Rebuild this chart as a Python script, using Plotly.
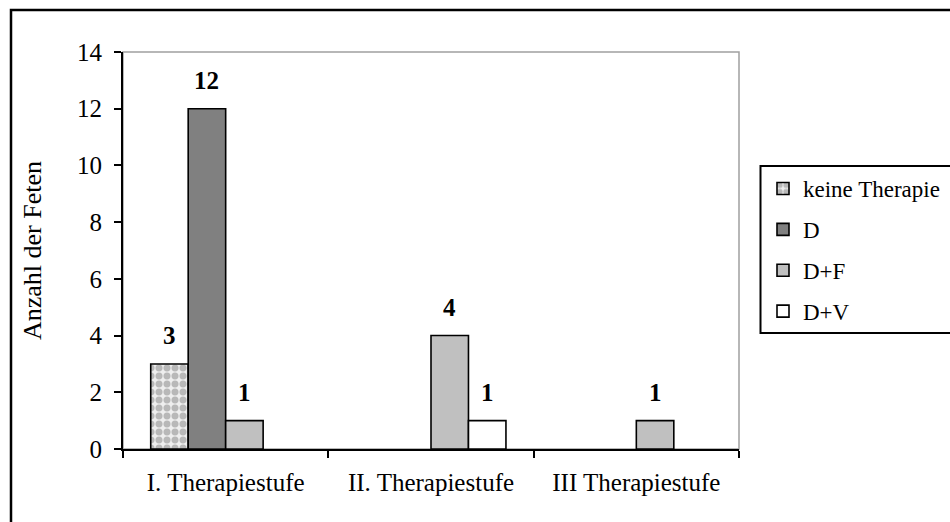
import plotly.graph_objects as go

# Counts of fetuses per therapy stage and treatment
stages = ["I. Therapiestufe", "II. Therapiestufe", "III Therapiestufe"]
keine_therapie = [3, None, None]
d_only = [12, None, None]
d_plus_f = [1, 4, 1]
d_plus_v = [None, 1, None]

series_names = ["keine Therapie", "D", "D+F", "D+V"]
series_values = [keine_therapie, d_only, d_plus_f, d_plus_v]

y_ticks = [0, 2, 4, 6, 8, 10, 12, 14]

FONT = "Liberation Serif, Times New Roman, serif"
W, H = 950, 522
L, R, T, B = 123, 211, 52, 73
BARGAP = 0.27

fills = [
    dict(color="white", pattern=dict(shape=".", fgcolor="#b8b8b8", bgcolor="#eeeeee",
                                     size=8, solidity=0.6, fillmode="replace")),
    dict(color="#808080"),
    dict(color="#c0c0c0"),
    dict(color="#ffffff"),
]

fig = go.Figure()
for i, (name, vals) in enumerate(zip(series_names, series_values)):
    marker = dict(fills[i])
    marker["line"] = dict(color="black", width=1.6)
    fig.add_trace(go.Bar(
        name=name, x=stages, y=vals, marker=marker,
        legendgroup=name,
    ))

# value labels above each bar
n = len(series_names)
slot = (1 - BARGAP) / n
for i, vals in enumerate(series_values):
    for k, v in enumerate(vals):
        if v is None:
            continue
        xc = k - (1 - BARGAP) / 2 + slot * (i + 0.5)
        fig.add_annotation(
            x=xc, y=v, xref="x", yref="y", text=f"<b>{v}</b>",
            showarrow=False, yanchor="middle", yshift=28,
            font=dict(family=FONT, size=25, color="black"),
        )

pw = W - L - R
ph = H - T - B


def px_x(px):
    return (px - L) / pw


def px_y(py):
    return (H - B - py) / ph


# grey plot-area frame (top and right edges visible)
fig.add_shape(type="rect", xref="paper", yref="paper", x0=0, x1=1, y0=0, y1=1,
              line=dict(color="#a0a0a0", width=1.5), layer="below")
# outer chart frame
fig.add_shape(type="rect", xref="paper", yref="paper",
              x0=px_x(11), x1=px_x(1000), y0=px_y(600), y1=px_y(10),
              line=dict(color="black", width=2.5))
# legend frame
fig.add_shape(type="rect", xref="paper", yref="paper",
              x0=px_x(760.5), x1=px_x(1000), y0=px_y(333), y1=px_y(166),
              line=dict(color="black", width=2))

fig.update_layout(
    width=W, height=H,
    margin=dict(l=L, r=R, t=T, b=B, autoexpand=False),
    paper_bgcolor="white", plot_bgcolor="white",
    barmode="group", bargap=BARGAP, bargroupgap=0,
    font=dict(family=FONT, size=25, color="black"),
    showlegend=True,
    legend=dict(
        x=px_x(763), xanchor="left", y=px_y(167), yanchor="top",
        font=dict(family=FONT, size=23, color="black"),
        bgcolor="rgba(0,0,0,0)", borderwidth=0,
        tracegroupgap=8, itemwidth=30,
    ),
    xaxis=dict(
        type="category", range=[-0.5, 2.5], tickson="boundaries",
        showline=True, linecolor="black", linewidth=2,
        ticks="outside", ticklen=7, tickwidth=2, tickcolor="black",
        showgrid=False, ticklabelstandoff=10,
        tickfont=dict(family=FONT, size=25, color="black"),
    ),
    yaxis=dict(
        range=[0, 14], tickvals=y_ticks,
        showline=True, linecolor="black", linewidth=2,
        ticks="outside", ticklen=7, tickwidth=2, tickcolor="black",
        showgrid=False, zeroline=False, ticklabelstandoff=7,
        tickfont=dict(family=FONT, size=25, color="black"),
        title=dict(text="Anzahl der Feten", standoff=28,
                   font=dict(family=FONT, size=26, color="black")),
    ),
)

fig.write_html("out.html")
